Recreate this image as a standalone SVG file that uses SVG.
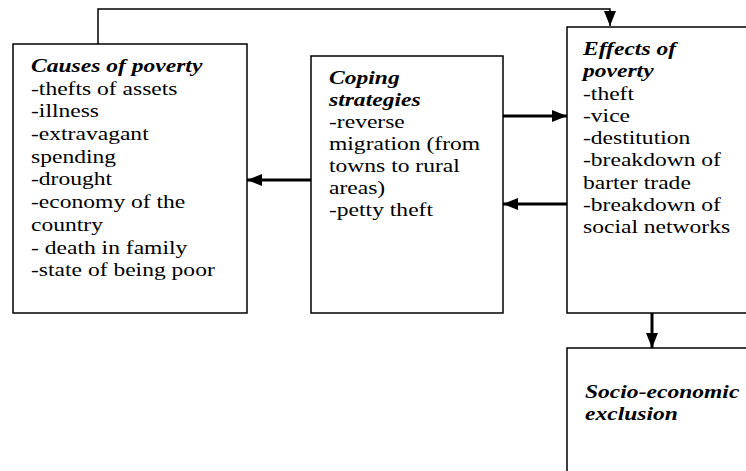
<svg xmlns="http://www.w3.org/2000/svg" width="746" height="471" viewBox="0 0 746 471">
<style>
.box{fill:#fff;stroke:#000;stroke-width:1.5}
.t{font-family:"Liberation Serif","Times New Roman",serif;font-size:19px;fill:#000}
.h{font-weight:bold;font-style:italic}
.thick{stroke:#000;stroke-width:3;fill:none}
.thin{stroke:#000;stroke-width:1.5;fill:none}
</style>
<defs>
<marker id="ah" markerUnits="userSpaceOnUse" markerWidth="16" markerHeight="12" refX="15" refY="6" orient="auto">
<path d="M0,0 L15,6 L0,12 z" fill="#000"/>
</marker>
</defs>
<g id="connectors">
<polyline class="thin" points="98,44 98,9 610,9 610,26" marker-end="url(#ah)"/>
<line class="thick" x1="503" y1="116" x2="567" y2="116" marker-end="url(#ah)"/>
<line class="thick" x1="567" y1="204" x2="503" y2="204" marker-end="url(#ah)"/>
<line class="thick" x1="311" y1="180" x2="247" y2="180" marker-end="url(#ah)"/>
<line class="thick" x1="652" y1="313" x2="652" y2="348" marker-end="url(#ah)"/>
</g>
<g id="causes">
<rect class="box" x="13" y="44" width="234" height="269"/>
<text class="t" transform="translate(31,72) scale(1.24,1)">
<tspan class="h" x="0" y="0">Causes of poverty</tspan>
<tspan x="0" dy="22.7">-thefts of assets</tspan>
<tspan x="0" dy="22.7">-illness</tspan>
<tspan x="0" dy="22.7">-extravagant</tspan>
<tspan x="0" dy="22.7">spending</tspan>
<tspan x="0" dy="22.7">-drought</tspan>
<tspan x="0" dy="22.7">-economy of the</tspan>
<tspan x="0" dy="22.7">country</tspan>
<tspan x="0" dy="22.7">- death in family</tspan>
<tspan x="0" dy="22.7">-state of being poor</tspan>
</text>
</g>
<g id="coping">
<rect class="box" x="311" y="56" width="192" height="257"/>
<text class="t" transform="translate(329,84) scale(1.24,1)">
<tspan class="h" x="0" y="0">Coping</tspan>
<tspan class="h" x="0" dy="22">strategies</tspan>
<tspan x="0" dy="22">-reverse</tspan>
<tspan x="0" dy="22">migration (from</tspan>
<tspan x="0" dy="22">towns to rural</tspan>
<tspan x="0" dy="22">areas)</tspan>
<tspan x="0" dy="22">-petty theft</tspan>
</text>
</g>
<g id="effects">
<rect class="box" x="567" y="27" width="185" height="286"/>
<text class="t" transform="translate(583,55) scale(1.24,1)">
<tspan class="h" x="0" y="0">Effects of</tspan>
<tspan class="h" x="0" dy="22.3">poverty</tspan>
<tspan x="0" dy="22.3">-theft</tspan>
<tspan x="0" dy="22.3">-vice</tspan>
<tspan x="0" dy="22.3">-destitution</tspan>
<tspan x="0" dy="22.3">-breakdown of</tspan>
<tspan x="0" dy="22.3">barter trade</tspan>
<tspan x="0" dy="22.3">-breakdown of</tspan>
<tspan x="0" dy="22.3">social networks</tspan>
</text>
</g>
<g id="exclusion">
<rect class="box" x="567" y="348" width="185" height="130"/>
<text class="t h" transform="translate(585,398) scale(1.24,1)">
<tspan x="0" y="0">Socio-economic</tspan>
<tspan x="0" dy="22">exclusion</tspan>
</text>
</g>
</svg>
